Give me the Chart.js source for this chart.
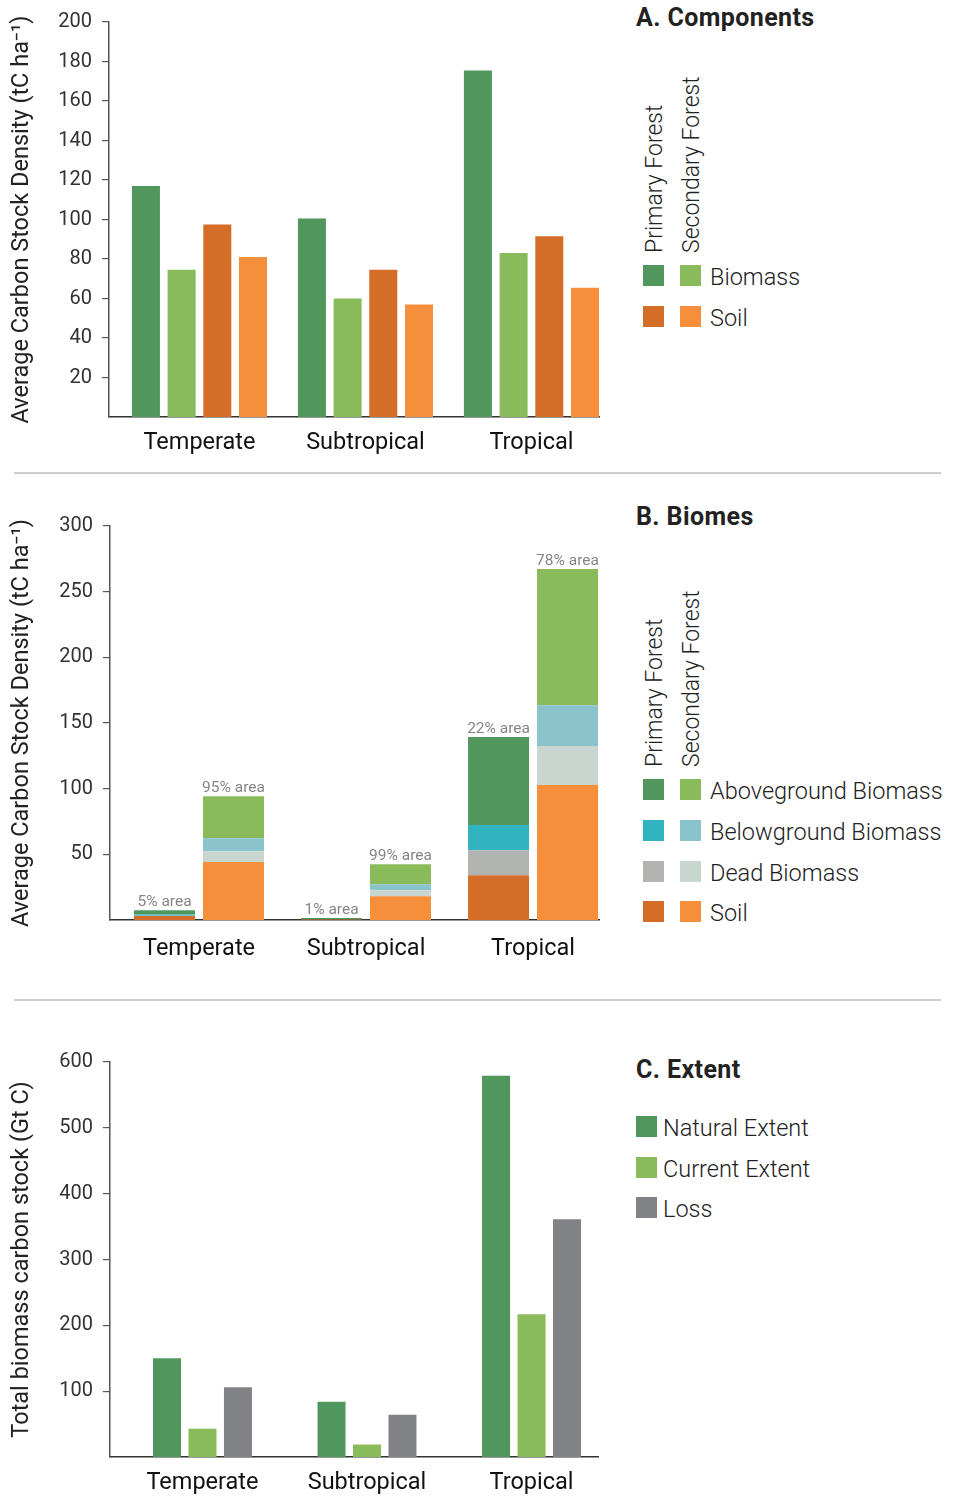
<!DOCTYPE html>
<html>
<head>
<meta charset="utf-8">
<script src="https://cdn.jsdelivr.net/npm/chart.js@4.4.1/dist/chart.umd.min.js"></script>
<style>
  body { margin: 0; width: 961px; height: 1497px; position: relative; background: #fff; font-family: Roboto, 'Noto Sans', sans-serif; overflow: hidden; }
  canvas { position: absolute; left: 0; }
  .title { position: absolute; left: 636px; font-size: 25px; font-weight: 700; color: #222; line-height: 24px; white-space: nowrap; letter-spacing: 0.4px; }
  .vlabel { position: absolute; font-size: 23px; font-weight: 300; color: #222; line-height: 26px; white-space: nowrap; transform-origin: 0 0; transform: rotate(-90deg) translateY(-50%); }
  .sw { position: absolute; width: 21px; height: 21px; }
  .lbl { position: absolute; font-size: 23.5px; font-weight: 300; color: #222; line-height: 21px; white-space: nowrap; }
  .rule { position: absolute; left: 14px; width: 927px; height: 2px; background: #cdcdcd; }
</style>
</head>
<body>
<canvas id="chartA" width="620" height="470" style="top:0px"></canvas>
<canvas id="chartB" width="620" height="470" style="top:500px"></canvas>
<canvas id="chartC" width="620" height="457" style="top:1040px"></canvas>
<div class="rule" style="top:472px"></div>
<div class="rule" style="top:999px"></div>
<div id="legends"></div>
<script>
// Categories shared by all three panels
const categories = ['Temperate', 'Subtropical', 'Tropical'];

// A. Components (tC ha-1)
const compPrimaryBiomass = [117, 100.5, 175.5];
const compSecondaryBiomass = [74.5, 60, 83];
const compPrimarySoil = [97.5, 74.5, 91.5];
const compSecondarySoil = [81, 57, 65.5];
const yTicksA = [20, 40, 60, 80, 100, 120, 140, 160, 180, 200];

// B. Biomes (area weighted, tC ha-1)
const primarySoil = [3.0, 0.3, 34.1];
const primaryDead = [0.3, 0.1, 19.1];
const primaryBelow = [0.9, 0.1, 19.1];
const primaryAbove = [3.2, 1.0, 67.0];
const secondarySoil = [44.2, 18.1, 102.7];
const secondaryDead = [8.2, 4.6, 29.7];
const secondaryBelow = [9.9, 4.6, 31.2];
const secondaryAbove = [32.0, 15.2, 103.7];
const primaryArea = ['5% area', '1% area', '22% area'];
const secondaryArea = ['95% area', '99% area', '78% area'];
const yTicksB = [50, 100, 150, 200, 250, 300];

// C. Extent (Gt C)
const naturalExtent = [150, 84, 579];
const currentExtent = [43, 19, 217];
const lossExtent = [106, 64, 361];
const yTicksC = [100, 200, 300, 400, 500, 600];

// Colours
const darkGreen = '#51965d';
const lightGreen = '#8abb5a';
const darkOrange = '#d46d27';
const orange = '#f58f3b';
const teal = '#32b3c0';
const lightBlue = '#8ac3cb';
const deadGray = '#b1b4b1';
const deadLight = '#c9d6cf';
const lossGray = '#818286';

Chart.defaults.font.family = 'Roboto';
Chart.defaults.animation = false;

const yTitle = 'Average Carbon Stock Density (tC ha\u207B\u00B9)';

function pts(values) {
  return values.map((v, i) => ({ x: i, y: v }));
}

function xScale(min, max, pad, height) {
  return {
    type: 'linear', min: min, max: max, offset: false,
    grid: { display: false, drawTicks: false },
    border: { display: true, color: '#333', width: 1.5 },
    afterBuildTicks: s => { s.ticks = categories.map((_, i) => ({ value: i })); },
    ticks: { padding: pad, font: { size: 23.5 }, color: '#111', autoSkip: false, maxRotation: 0,
      callback: v => categories[v] ?? '' },
    afterFit: s => { s.height = height; }
  };
}

function yScale(max, ticks, title, width, stacked) {
  return {
    min: 0, max: max, stacked: stacked,
    afterBuildTicks: s => { s.ticks = ticks.map(v => ({ value: v })); },
    grid: { drawOnChartArea: false, drawTicks: true, tickLength: 7, color: '#555', lineWidth: 1.2 },
    border: { display: true, color: '#555', width: 1.5 },
    ticks: { padding: 10, font: { size: 20 }, color: '#333' },
    title: { display: true, text: title, font: { size: 23.5 }, color: '#222', padding: { top: 8, bottom: 0 } },
    afterFit: s => { s.width = width; }
  };
}

const basePlugins = { legend: { display: false }, tooltip: { enabled: false } };

// A. Components
new Chart(document.getElementById('chartA'), {
  type: 'bar',
  data: {
    datasets: [
      { data: pts(compPrimaryBiomass), backgroundColor: darkGreen },
      { data: pts(compSecondaryBiomass), backgroundColor: lightGreen },
      { data: pts(compPrimarySoil), backgroundColor: darkOrange },
      { data: pts(compSecondarySoil), backgroundColor: orange }
    ]
  },
  options: {
    responsive: false,
    categoryPercentage: 0.86,
    barPercentage: 0.785,
    layout: { padding: { top: 20, right: 21, left: 0, bottom: 0 } },
    plugins: basePlugins,
    scales: {
      x: xScale(-0.545, 2.407, 12, 53),
      y: yScale(200, yTicksA, yTitle, 109, false)
    }
  }
});

// Labels above stacked bars showing area share
const areaLabels = {
  id: 'areaLabels',
  afterDatasetsDraw(chart) {
    const ctx = chart.ctx;
    ctx.save();
    ctx.font = '15.5px Roboto';
    ctx.fillStyle = '#858585';
    ctx.textAlign = 'center';
    ctx.textBaseline = 'alphabetic';
    [[3, primaryArea], [7, secondaryArea]].forEach(([di, texts]) => {
      chart.getDatasetMeta(di).data.forEach((bar, i) => {
        ctx.fillText(texts[i], bar.x, bar.y - 4);
      });
    });
    ctx.restore();
  }
};

// B. Biomes
new Chart(document.getElementById('chartB'), {
  type: 'bar',
  data: {
    datasets: [
      { data: pts(primarySoil), backgroundColor: darkOrange, stack: 'primary' },
      { data: pts(primaryDead), backgroundColor: deadGray, stack: 'primary' },
      { data: pts(primaryBelow), backgroundColor: teal, stack: 'primary' },
      { data: pts(primaryAbove), backgroundColor: darkGreen, stack: 'primary' },
      { data: pts(secondarySoil), backgroundColor: orange, stack: 'secondary' },
      { data: pts(secondaryDead), backgroundColor: deadLight, stack: 'secondary' },
      { data: pts(secondaryBelow), backgroundColor: lightBlue, stack: 'secondary' },
      { data: pts(secondaryAbove), backgroundColor: lightGreen, stack: 'secondary' }
    ]
  },
  options: {
    responsive: false,
    categoryPercentage: 0.826,
    barPercentage: 0.884,
    layout: { padding: { top: 26, right: 21, left: 0, bottom: 0 } },
    plugins: basePlugins,
    scales: {
      x: xScale(-0.533, 2.395, 15, 50),
      y: yScale(300, yTicksB, yTitle, 110, true)
    }
  },
  plugins: [areaLabels]
});

// C. Extent
new Chart(document.getElementById('chartC'), {
  type: 'bar',
  data: {
    datasets: [
      { data: pts(naturalExtent), backgroundColor: darkGreen },
      { data: pts(currentExtent), backgroundColor: lightGreen },
      { data: pts(lossExtent), backgroundColor: lossGray }
    ]
  },
  options: {
    responsive: false,
    categoryPercentage: 0.647,
    barPercentage: 0.789,
    layout: { padding: { top: 21, right: 22, left: 0, bottom: 0 } },
    plugins: basePlugins,
    scales: {
      x: xScale(-0.562, 2.404, 12, 40),
      y: yScale(600, yTicksC, 'Total biomass carbon stock (Gt C)', 110, false)
    }
  }
});

// Legends (HTML, to the right of each panel)
const legendBox = document.getElementById('legends');
function el(cls, style, text) {
  const d = document.createElement('div');
  d.className = cls;
  Object.assign(d.style, style);
  if (text) d.textContent = text;
  legendBox.appendChild(d);
}

function pairedLegend(title, titleTop, vBottom, rows) {
  el('title', { top: titleTop + 'px' }, title);
  el('vlabel', { left: '655px', top: vBottom + 'px' }, 'Primary Forest');
  el('vlabel', { left: '692px', top: vBottom + 'px' }, 'Secondary Forest');
  rows.forEach(r => {
    el('sw', { left: '643px', top: r.y + 'px', background: r.c1 });
    el('sw', { left: '680px', top: r.y + 'px', background: r.c2 });
    el('lbl', { left: '710px', top: (r.y + 2) + 'px' }, r.text);
  });
}

pairedLegend('A. Components', 6, 253, [
  { y: 265, c1: darkGreen, c2: lightGreen, text: 'Biomass' },
  { y: 306, c1: darkOrange, c2: orange, text: 'Soil' }
]);

pairedLegend('B. Biomes', 505, 767, [
  { y: 779, c1: darkGreen, c2: lightGreen, text: 'Aboveground Biomass' },
  { y: 820, c1: teal, c2: lightBlue, text: 'Belowground Biomass' },
  { y: 861, c1: deadGray, c2: deadLight, text: 'Dead Biomass' },
  { y: 901, c1: darkOrange, c2: orange, text: 'Soil' }
]);

el('title', { top: '1058px' }, 'C. Extent');
[
  { y: 1116, c: darkGreen, text: 'Natural Extent' },
  { y: 1157, c: lightGreen, text: 'Current Extent' },
  { y: 1197, c: lossGray, text: 'Loss' }
].forEach(r => {
  el('sw', { left: '636px', top: r.y + 'px', background: r.c });
  el('lbl', { left: '663px', top: (r.y + 1.5) + 'px' }, r.text);
});
</script>
</body>
</html>
